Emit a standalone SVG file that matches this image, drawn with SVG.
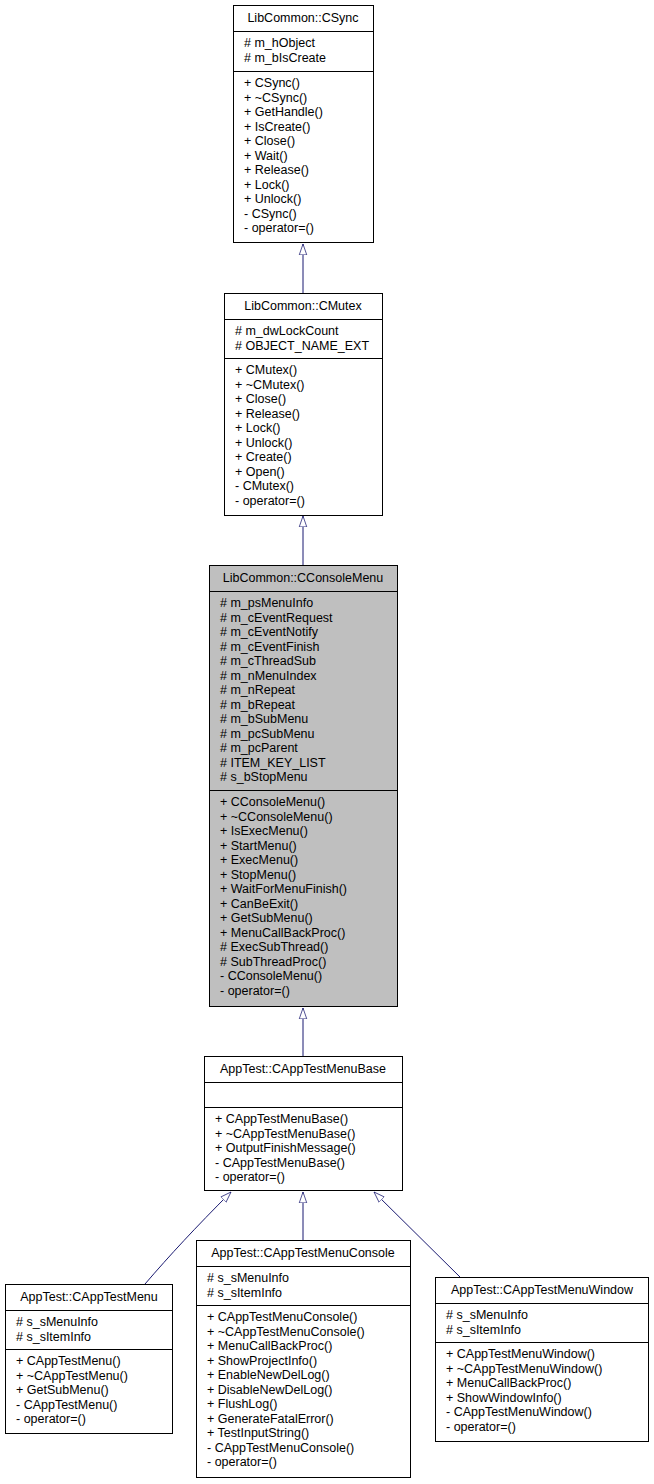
<svg xmlns="http://www.w3.org/2000/svg" width="654" height="1484" viewBox="0 0 654 1484">
<style>
rect{fill:#fff;stroke:#000;stroke-width:1}
line.d{stroke:#000;stroke-width:1}
text{font-family:"Liberation Sans",Arial,sans-serif;font-size:12.5px;fill:#000}
.t{text-anchor:middle}
.c{fill:none;stroke:#191970;stroke-width:1;marker-end:url(#tri)}
</style>
<defs>
<marker id="tri" markerUnits="userSpaceOnUse" markerWidth="12" markerHeight="16" refX="15" refY="5.5" viewBox="0 0 16 11" orient="auto">
<polygon points="0.5,0.5 15,5.5 0.5,10.5" fill="#fff" stroke="#191970" stroke-width="1"/>
</marker>
</defs>
<rect width="654" height="1484" style="fill:#fff;stroke:none"/>
<g id="connectors">
<path class="c" d="M303,293 L303,244"/>
<path class="c" d="M303,565 L303,516"/>
<path class="c" d="M303,1057 L303,1008"/>
<path class="c" d="M303,1240 L303,1192"/>
<path class="c" d="M145,1284 C170,1255 195,1228 231,1192"/>
<path class="c" d="M460,1277 L374,1192"/>
</g>
<g id="CSync">
<rect x="233.5" y="5.5" width="140" height="237"/>
<line class="d" x1="233.5" y1="31.5" x2="373.5" y2="31.5"/><line class="d" x1="233.5" y1="71.5" x2="373.5" y2="71.5"/>
<text class="t" x="303" y="22">LibCommon::CSync</text>
<text x="244" y="47"># m_hObject</text><text x="244" y="61.5"># m_bIsCreate</text>
<text x="244" y="87">+ CSync()</text><text x="244" y="101.5">+ ~CSync()</text><text x="244" y="116">+ GetHandle()</text><text x="244" y="130.5">+ IsCreate()</text><text x="244" y="145">+ Close()</text><text x="244" y="159.5">+ Wait()</text><text x="244" y="174">+ Release()</text><text x="244" y="188.5">+ Lock()</text><text x="244" y="203">+ Unlock()</text><text x="244" y="217.5">- CSync()</text><text x="244" y="232">- operator=()</text>
</g>
<g id="CMutex">
<rect x="224.5" y="293.5" width="158" height="222"/>
<line class="d" x1="224.5" y1="319.5" x2="382.5" y2="319.5"/><line class="d" x1="224.5" y1="358.5" x2="382.5" y2="358.5"/>
<text class="t" x="303" y="310">LibCommon::CMutex</text>
<text x="235" y="335"># m_dwLockCount</text><text x="235" y="349.5"># OBJECT_NAME_EXT</text>
<text x="235" y="374">+ CMutex()</text><text x="235" y="388.5">+ ~CMutex()</text><text x="235" y="403">+ Close()</text><text x="235" y="417.5">+ Release()</text><text x="235" y="432">+ Lock()</text><text x="235" y="446.5">+ Unlock()</text><text x="235" y="461">+ Create()</text><text x="235" y="475.5">+ Open()</text><text x="235" y="490">- CMutex()</text><text x="235" y="504.5">- operator=()</text>
</g>
<g id="CConsoleMenu">
<rect x="209.5" y="565.5" width="188" height="441" style="fill:#bfbfbf"/>
<line class="d" x1="209.5" y1="591.5" x2="397.5" y2="591.5"/><line class="d" x1="209.5" y1="790.5" x2="397.5" y2="790.5"/>
<text class="t" x="303" y="582">LibCommon::CConsoleMenu</text>
<text x="220" y="607"># m_psMenuInfo</text><text x="220" y="621.5"># m_cEventRequest</text><text x="220" y="636"># m_cEventNotify</text><text x="220" y="650.5"># m_cEventFinish</text><text x="220" y="665"># m_cThreadSub</text><text x="220" y="679.5"># m_nMenuIndex</text><text x="220" y="694"># m_nRepeat</text><text x="220" y="708.5"># m_bRepeat</text><text x="220" y="723"># m_bSubMenu</text><text x="220" y="737.5"># m_pcSubMenu</text><text x="220" y="752"># m_pcParent</text><text x="220" y="766.5"># ITEM_KEY_LIST</text><text x="220" y="781"># s_bStopMenu</text>
<text x="220" y="806">+ CConsoleMenu()</text><text x="220" y="820.5">+ ~CConsoleMenu()</text><text x="220" y="835">+ IsExecMenu()</text><text x="220" y="849.5">+ StartMenu()</text><text x="220" y="864">+ ExecMenu()</text><text x="220" y="878.5">+ StopMenu()</text><text x="220" y="893">+ WaitForMenuFinish()</text><text x="220" y="907.5">+ CanBeExit()</text><text x="220" y="922">+ GetSubMenu()</text><text x="220" y="936.5">+ MenuCallBackProc()</text><text x="220" y="951"># ExecSubThread()</text><text x="220" y="965.5"># SubThreadProc()</text><text x="220" y="980">- CConsoleMenu()</text><text x="220" y="994.5">- operator=()</text>
</g>
<g id="CAppTestMenuBase">
<rect x="204.5" y="1056.5" width="198" height="134"/>
<line class="d" x1="204.5" y1="1082.5" x2="402.5" y2="1082.5"/><line class="d" x1="204.5" y1="1107.5" x2="402.5" y2="1107.5"/>
<text class="t" x="303" y="1073">AppTest::CAppTestMenuBase</text>
<text x="215" y="1123">+ CAppTestMenuBase()</text><text x="215" y="1137.5">+ ~CAppTestMenuBase()</text><text x="215" y="1152">+ OutputFinishMessage()</text><text x="215" y="1166.5">- CAppTestMenuBase()</text><text x="215" y="1181">- operator=()</text>
</g>
<g id="CAppTestMenu">
<rect x="5.5" y="1284.5" width="167" height="149"/>
<line class="d" x1="5.5" y1="1310.5" x2="172.5" y2="1310.5"/><line class="d" x1="5.5" y1="1349.5" x2="172.5" y2="1349.5"/>
<text class="t" x="89" y="1301">AppTest::CAppTestMenu</text>
<text x="16" y="1326"># s_sMenuInfo</text><text x="16" y="1340.5"># s_sItemInfo</text>
<text x="16" y="1365">+ CAppTestMenu()</text><text x="16" y="1379.5">+ ~CAppTestMenu()</text><text x="16" y="1394">+ GetSubMenu()</text><text x="16" y="1408.5">- CAppTestMenu()</text><text x="16" y="1423">- operator=()</text>
</g>
<g id="CAppTestMenuConsole">
<rect x="196.5" y="1240.5" width="214" height="237"/>
<line class="d" x1="196.5" y1="1266.5" x2="410.5" y2="1266.5"/><line class="d" x1="196.5" y1="1305.5" x2="410.5" y2="1305.5"/>
<text class="t" x="303" y="1257">AppTest::CAppTestMenuConsole</text>
<text x="207" y="1282"># s_sMenuInfo</text><text x="207" y="1296.5"># s_sItemInfo</text>
<text x="207" y="1321">+ CAppTestMenuConsole()</text><text x="207" y="1335.5">+ ~CAppTestMenuConsole()</text><text x="207" y="1350">+ MenuCallBackProc()</text><text x="207" y="1364.5">+ ShowProjectInfo()</text><text x="207" y="1379">+ EnableNewDelLog()</text><text x="207" y="1393.5">+ DisableNewDelLog()</text><text x="207" y="1408">+ FlushLog()</text><text x="207" y="1422.5">+ GenerateFatalError()</text><text x="207" y="1437">+ TestInputString()</text><text x="207" y="1451.5">- CAppTestMenuConsole()</text><text x="207" y="1466">- operator=()</text>
</g>
<g id="CAppTestMenuWindow">
<rect x="435.5" y="1277.5" width="213" height="164"/>
<line class="d" x1="435.5" y1="1303.5" x2="648.5" y2="1303.5"/><line class="d" x1="435.5" y1="1342.5" x2="648.5" y2="1342.5"/>
<text class="t" x="542" y="1294">AppTest::CAppTestMenuWindow</text>
<text x="446" y="1319"># s_sMenuInfo</text><text x="446" y="1333.5"># s_sItemInfo</text>
<text x="446" y="1358">+ CAppTestMenuWindow()</text><text x="446" y="1372.5">+ ~CAppTestMenuWindow()</text><text x="446" y="1387">+ MenuCallBackProc()</text><text x="446" y="1401.5">+ ShowWindowInfo()</text><text x="446" y="1416">- CAppTestMenuWindow()</text><text x="446" y="1430.5">- operator=()</text>
</g>
</svg>
